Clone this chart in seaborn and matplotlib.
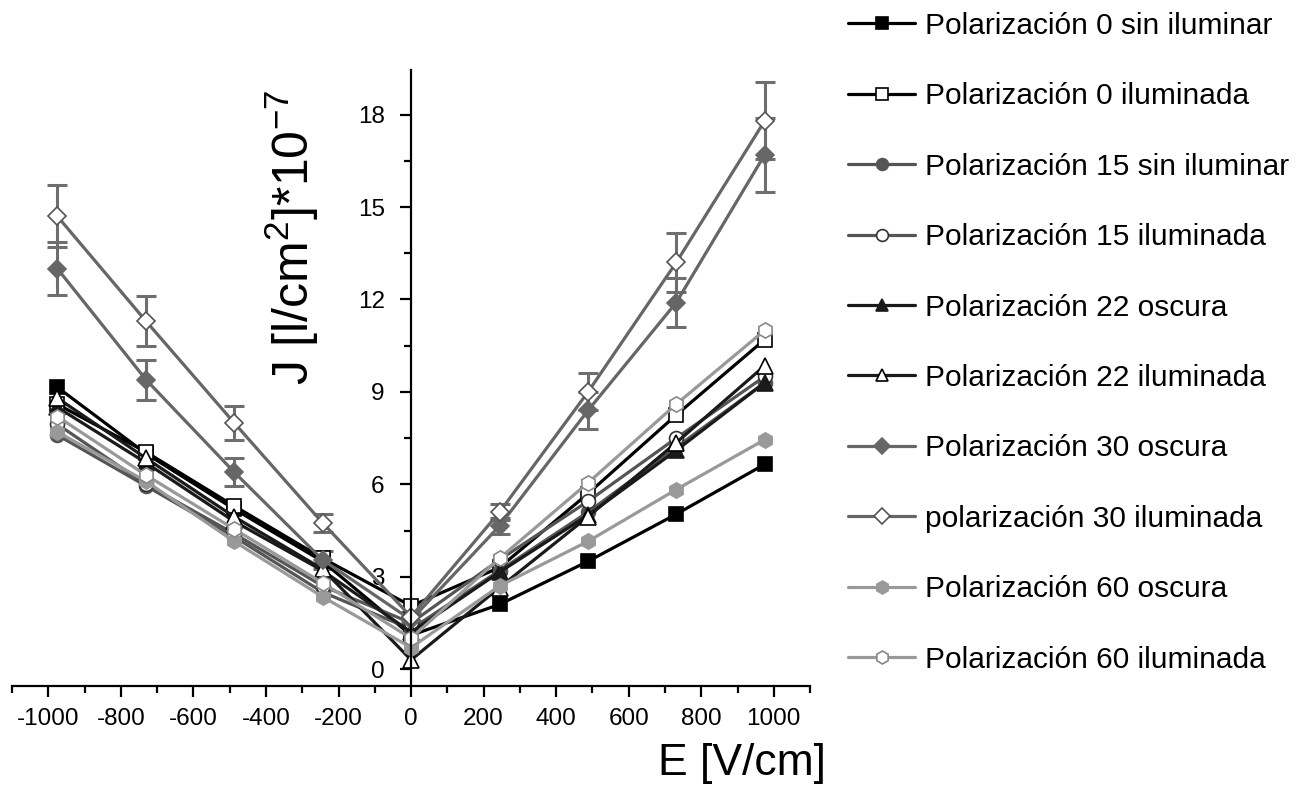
import numpy as np
import matplotlib
matplotlib.use("Agg")
import matplotlib.pyplot as plt
from matplotlib.ticker import MultipleLocator
import seaborn as sns

# campo electrico E [V/cm]
E = [-975, -731, -488, -244, 0, 244, 488, 731, 975]

# densidad de corriente J [A/cm^2]*1e-7
p0_dark = [9.15, 7.0, 5.2, 3.5, 1.1, 2.1, 3.5, 5.03, 6.65]
p0_light = [8.6, 7.05, 5.3, 3.6, 2.05, 3.3, 5.7, 8.25, 10.7]
p15_dark = [7.6, 5.95, 4.3, 2.5, 1.3, 3.2, 5.1, 7.2, 9.3]
p15_light = [7.95, 6.0, 4.4, 2.7, 1.5, 3.55, 5.45, 7.5, 9.5]
p22_dark = [8.5, 6.7, 4.8, 3.2, 1.2, 3.15, 5.0, 7.1, 9.3]
p22_light = [8.8, 6.85, 4.95, 3.25, 0.3, 2.65, 4.95, 7.35, 9.85]
p30_dark = [13.0, 9.4, 6.4, 3.55, 1.6, 4.65, 8.4, 11.9, 16.7]
p30_light = [14.7, 11.3, 8.0, 4.75, 1.7, 5.1, 9.0, 13.2, 17.8]
p60_dark = [7.7, 6.1, 4.15, 2.35, 0.7, 2.7, 4.15, 5.83, 7.45]
p60_light = [8.2, 6.3, 4.55, 2.8, 1.0, 3.6, 6.05, 8.6, 11.0]

# barras de error (solo visibles en polarizacion 30)
p30_dark_err = [0.85, 0.65, 0.45, 0.3, 0.15, 0.25, 0.6, 0.8, 1.2]
p30_light_err = [1.0, 0.8, 0.55, 0.3, 0.15, 0.25, 0.6, 0.95, 1.25]

labels = [
    "Polarización 0 sin iluminar",
    "Polarización 0 iluminada",
    "Polarización 15 sin iluminar",
    "Polarización 15 iluminada",
    "Polarización 22 oscura",
    "Polarización 22 iluminada",
    "Polarización 30 oscura",
    "polarización 30 iluminada",
    "Polarización 60 oscura",
    "Polarización 60 iluminada",
]
series = [p0_dark, p0_light, p15_dark, p15_light, p22_dark,
          p22_light, p30_dark, p30_light, p60_dark, p60_light]

# (color linea, marcador, relleno, borde, tamano)
styles = [
    ("#000000", "s", "#000000", "#000000", 10),
    ("#000000", "s", "white", "#000000", 10),
    ("#555555", "o", "#555555", "#555555", 10),
    ("#555555", "o", "white", "#333333", 10),
    ("#1a1a1a", "^", "#1a1a1a", "#1a1a1a", 11),
    ("#1a1a1a", "^", "white", "#000000", 11),
    ("#666666", "D", "#666666", "#666666", 9),
    ("#666666", "D", "white", "#555555", 9),
    ("#999999", "h", "#999999", "#999999", 11),
    ("#999999", "h", "white", "#888888", 11),
]

sns.set_style("ticks")
plt.rcParams["font.family"] = ["Liberation Sans", "DejaVu Sans"]
plt.rcParams["mathtext.default"] = "regular"
plt.rcParams["axes.unicode_minus"] = False
for key in ("text.color", "axes.labelcolor", "xtick.color", "ytick.color",
            "axes.edgecolor"):
    plt.rcParams[key] = "black"

fig = plt.figure(figsize=(13.07, 7.95), dpi=100)
ax = fig.add_axes([0.0092, 0.137, 0.6106, 0.775])

# barras de error primero
ax.errorbar(E, p30_dark, yerr=p30_dark_err, fmt="none", ecolor="#6e6e6e",
            elinewidth=2.2, capsize=7, capthick=2.2, zorder=1)
ax.errorbar(E, p30_light, yerr=p30_light_err, fmt="none", ecolor="#6e6e6e",
            elinewidth=2.2, capsize=7, capthick=2.2, zorder=1)

for vals, lab, (lc, mk, fc, ec, ms) in zip(series, labels, styles):
    sns.lineplot(x=E, y=vals, ax=ax, color=lc, lw=2.3, marker=mk,
                 markersize=ms, markerfacecolor=fc, markeredgecolor=ec,
                 markeredgewidth=1.2, label=lab, sort=False)

ax.set_xlim(-1100, 1100)
ax.set_ylim(-0.55, 19.45)

ax.spines["left"].set_position(("data", 0))
ax.spines["right"].set_visible(False)
ax.spines["top"].set_visible(False)
for sp in ("left", "bottom"):
    ax.spines[sp].set_linewidth(1.6)

ax.xaxis.set_major_locator(MultipleLocator(200))
ax.xaxis.set_minor_locator(MultipleLocator(100))
ax.yaxis.set_major_locator(MultipleLocator(3))
ax.yaxis.set_minor_locator(MultipleLocator(1.5))
ax.set_xticks(np.arange(-1000, 1001, 200))
ax.tick_params(axis="both", which="major", direction="out", length=8,
               width=1.6, labelsize=17.5)
ax.tick_params(axis="x", which="major", pad=8)
ax.tick_params(axis="y", which="major", pad=11)
ax.tick_params(axis="both", which="minor", direction="out", length=5,
               width=1.6)

ax.set_xlabel("E [V/cm]", fontsize=32)
ax.xaxis.set_label_coords(0.915, -0.093)
ax.set_ylabel(r"J [l/cm$^2$]*10$^{-7}$", fontsize=36)
ax.yaxis.set_label_coords(0.387, 0.729)

ax.legend(loc="upper left", bbox_to_anchor=(0.649, 0.985),
          bbox_transform=fig.transFigure, frameon=False, fontsize=21.5,
          handlelength=2.25, handletextpad=0.33, labelspacing=1.42,
          borderpad=0, borderaxespad=0, markerscale=0.85)

fig.savefig("out.png", dpi=100)
